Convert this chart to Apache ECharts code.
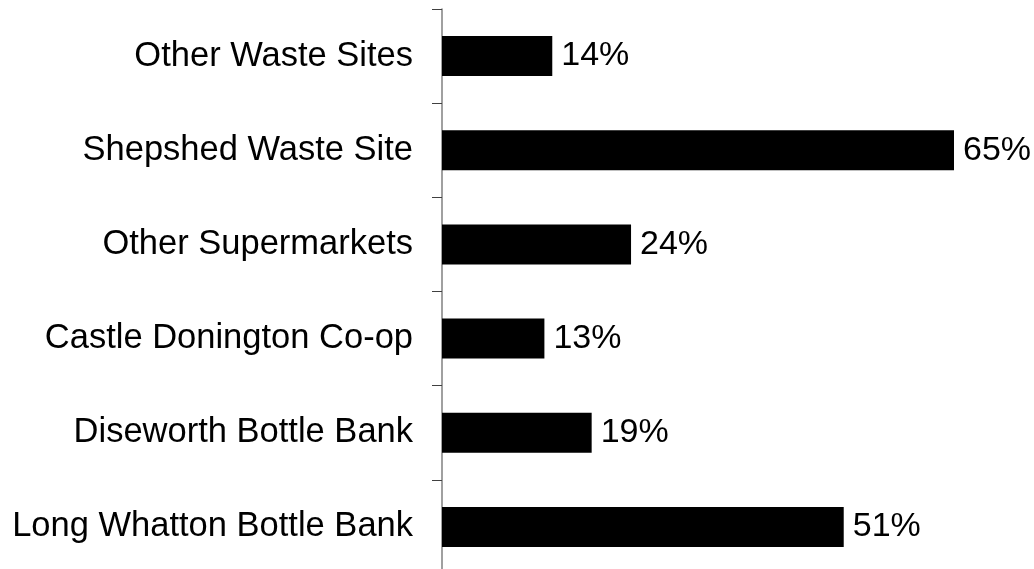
<!DOCTYPE html>
<html>
<head>
<meta charset="utf-8">
<script src="https://cdn.jsdelivr.net/npm/echarts@6/dist/echarts.min.js"></script>
<style>
  html, body { margin: 0; padding: 0; background: #fff; overflow: hidden; }
  /* chart area runs a few pixels below the window, as in the source picture */
  #chart { width: 1034px; height: 576px; }
</style>
</head>
<body>
<div id="chart"></div>
<script>
// bottom to top, as drawn on the category axis
const categories = [
  'Long Whatton Bottle Bank',
  'Diseworth Bottle Bank',
  'Castle Donington Co-op',
  'Other Supermarkets',
  'Shepshed Waste Site',
  'Other Waste Sites'
];
const shares = [51, 19, 13, 24, 65, 14];

(function () {
  const font = '"Liberation Sans", Arial, sans-serif';
  const option = {
    animation: false,
    grid: { left: 442, top: 9, height: 565, right: 80 },
    xAxis: {
      type: 'value',
      min: 0,
      max: 65,
      show: false
    },
    yAxis: {
      type: 'category',
      data: categories,
      axisLine: { show: true, lineStyle: { color: '#808080', width: 1.5 } },
      axisTick: { show: true, length: 10, lineStyle: { color: '#404040' } },
      axisLabel: { margin: 29, color: '#000', fontSize: 34.5, fontFamily: font },
      splitLine: { show: false }
    },
    series: [
      {
        type: 'bar',
        data: shares,
        barWidth: 40,
        itemStyle: { color: '#000' },
        label: {
          show: true,
          position: 'right',
          distance: 9,
          color: '#000',
          fontSize: 34,
          fontFamily: font,
          formatter: p => p.value + '%'
        }
      }
    ]
  };

  const myChart = echarts.init(document.getElementById('chart'));
  myChart.setOption(option);
}());
</script>
</body>
</html>
